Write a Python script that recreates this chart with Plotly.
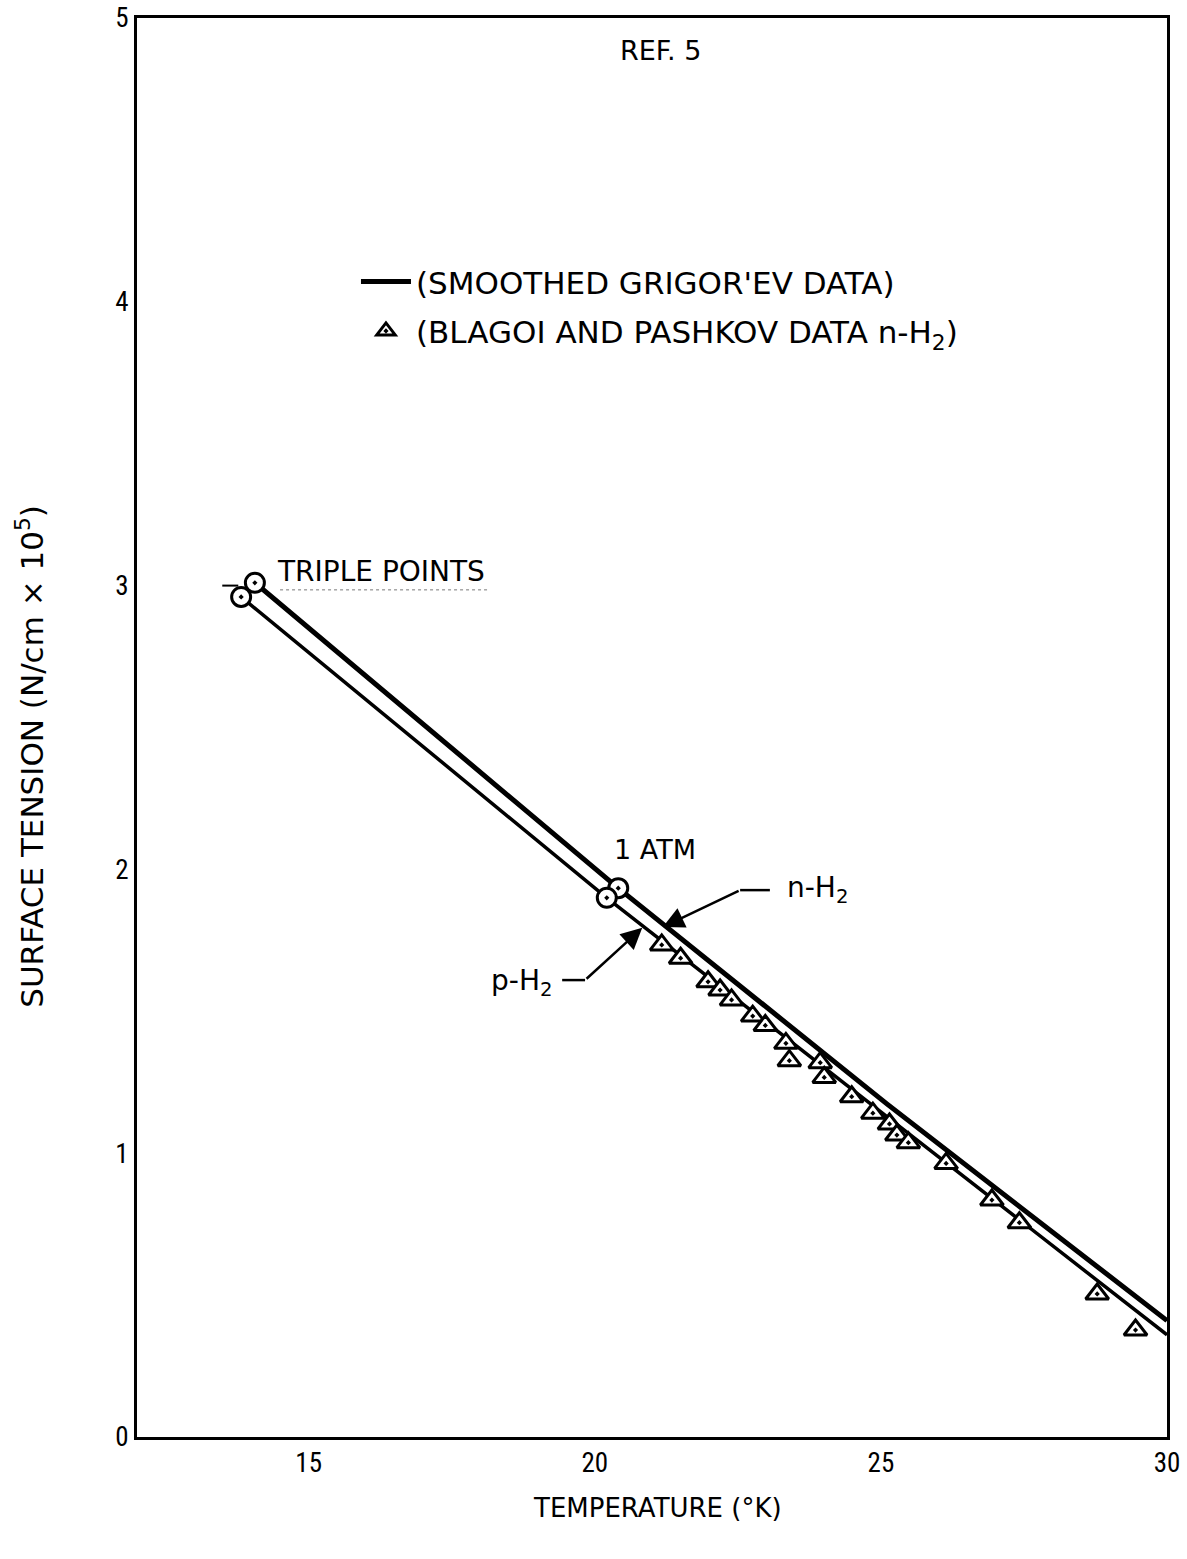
import plotly.graph_objects as go

# Smoothed Grigor'ev curves (temperature K, surface tension N/cm x 1e5)
nh2_curve_T = [14.06, 20.41, 25.11, 30.0]
nh2_curve_s = [3.01, 1.934, 1.173, 0.41]
ph2_curve_T = [13.82, 20.21, 25.10, 30.0]
ph2_curve_s = [2.96, 1.90, 1.13, 0.36]

# Triple points and 1 atm points
nh2_pts_T = [14.06, 20.41]
nh2_pts_s = [3.01, 1.934]
ph2_pts_T = [13.82, 20.21]
ph2_pts_s = [2.96, 1.90]

# Blagoi and Pashkov data, n-H2
bp_T = [21.17, 21.50, 21.98, 22.19, 22.39, 22.76, 22.98, 23.34, 23.40, 23.94, 24.01,
        24.49, 24.86, 25.15, 25.28, 25.48, 26.14, 26.94, 27.42, 28.78, 29.45]
bp_s = [1.734, 1.687, 1.604, 1.575, 1.540, 1.483, 1.450, 1.387, 1.326, 1.319, 1.267,
        1.199, 1.141, 1.103, 1.064, 1.037, 0.964, 0.835, 0.755, 0.504, 0.377]

x_ticks = [15, 20, 25, 30]
y_ticks = [0, 1, 2, 3, 4, 5]

FONT = "DejaVu Sans"
TICKFONT = "Liberation Sans Narrow, Roboto Condensed, Roboto"

fig = go.Figure()
fig.add_trace(go.Scatter(x=nh2_curve_T, y=nh2_curve_s, mode="lines",
                         line=dict(color="black", width=5),
                         name="(SMOOTHED GRIGOR'EV DATA)", legendgroup="a"))
fig.add_trace(go.Scatter(x=ph2_curve_T, y=ph2_curve_s, mode="lines",
                         line=dict(color="black", width=3.5),
                         showlegend=False, legendgroup="a"))
fig.add_trace(go.Scatter(x=bp_T, y=bp_s, mode="markers",
                         marker=dict(symbol="triangle-up-dot", size=20, color="white",
                                     line=dict(color="black", width=3)),
                         name="(BLAGOI AND PASHKOV DATA n-H<sub>2</sub>)", legendgroup="b"))
for xs, ys in ((nh2_pts_T, nh2_pts_s), (ph2_pts_T, ph2_pts_s)):
    fig.add_trace(go.Scatter(x=xs, y=ys, mode="markers", showlegend=False,
                             marker=dict(symbol="circle-dot", size=19, color="white",
                                         line=dict(color="black", width=3))))

def tf(size):
    return dict(family=FONT, size=size, color="black")

annotations = [
    dict(x=21.15, y=4.887, text="REF. 5", showarrow=False, font=tf(27),
         xanchor="center", yanchor="middle"),
    dict(x=14.41, y=3.05, text="TRIPLE POINTS", showarrow=False, font=tf(28),
         xanchor="left", yanchor="middle"),
    dict(x=21.06, y=2.07, text="1 ATM", showarrow=False, font=tf(27),
         xanchor="center", yanchor="middle"),
    dict(x=23.33, y=1.93, text="n-H<sub>2</sub>", showarrow=False, font=tf(28),
         xanchor="left", yanchor="middle"),
    dict(x=19.28, y=1.60, text="p-H<sub>2</sub>", showarrow=False, font=tf(28),
         xanchor="right", yanchor="middle"),
    # arrows
    dict(x=21.19, y=1.797, ax=22.54, ay=1.927, axref="x", ayref="y", text="",
         showarrow=True, arrowhead=2, arrowsize=1.7, arrowwidth=2.5, arrowcolor="black"),
    dict(x=20.83, y=1.794, ax=19.83, ay=1.61, axref="x", ayref="y", text="",
         showarrow=True, arrowhead=2, arrowsize=1.7, arrowwidth=2.5, arrowcolor="black"),
    # axis titles
    dict(x=21.1, y=-0.050, yref="paper", text="TEMPERATURE (°K)", showarrow=False,
         font=tf(26), xanchor="center", yanchor="middle"),
    dict(x=-0.104, xref="paper", y=2.40, text="SURFACE TENSION (N/cm × 10<sup>5</sup>)",
         showarrow=False, textangle=-90, font=tf(31), xanchor="center", yanchor="middle"),
]

shapes = [
    dict(type="line", x0=22.54, y0=1.927, x1=23.06, y1=1.927,
         line=dict(color="black", width=2.5)),
    dict(type="line", x0=19.43, y0=1.61, x1=19.83, y1=1.61,
         line=dict(color="black", width=2.5)),
    dict(type="line", x0=13.49, y0=3.0, x1=13.77, y1=3.0,
         line=dict(color="black", width=2)),
    dict(type="line", x0=14.50, y0=2.985, x1=18.17, y1=2.985,
         line=dict(color="#777777", width=1, dash="dot")),
]

fig.update_layout(
    width=1187, height=1559,
    margin=dict(l=137, r=20, t=18, b=122),
    paper_bgcolor="white", plot_bgcolor="white",
    font=dict(family=FONT, size=24, color="black"),
    annotations=annotations, shapes=shapes,
    showlegend=True,
    legend=dict(x=0.2126, y=0.833, xanchor="left", yanchor="top",
                bgcolor="rgba(0,0,0,0)", font=tf(31),
                traceorder="grouped", tracegroupgap=6, itemwidth=50),
)
fig.update_xaxes(range=[12, 30], tickvals=x_ticks, showgrid=False, zeroline=False,
                 showline=True, linecolor="black", linewidth=3, mirror=True, automargin=False,
                 ticks="", tickfont=dict(family=TICKFONT, size=27), ticklabelstandoff=0,
                 ticklabeloverflow="allow")
fig.update_yaxes(range=[0, 5], tickvals=y_ticks, showgrid=False, zeroline=False,
                 showline=True, linecolor="black", linewidth=3, mirror=True, automargin=False,
                 ticks="", tickfont=dict(family=TICKFONT, size=27), ticklabelstandoff=0,
                 ticklabeloverflow="allow")

fig.write_html("out.html", config={"displayModeBar": False},
               post_script="document.body.style.margin='0';")
